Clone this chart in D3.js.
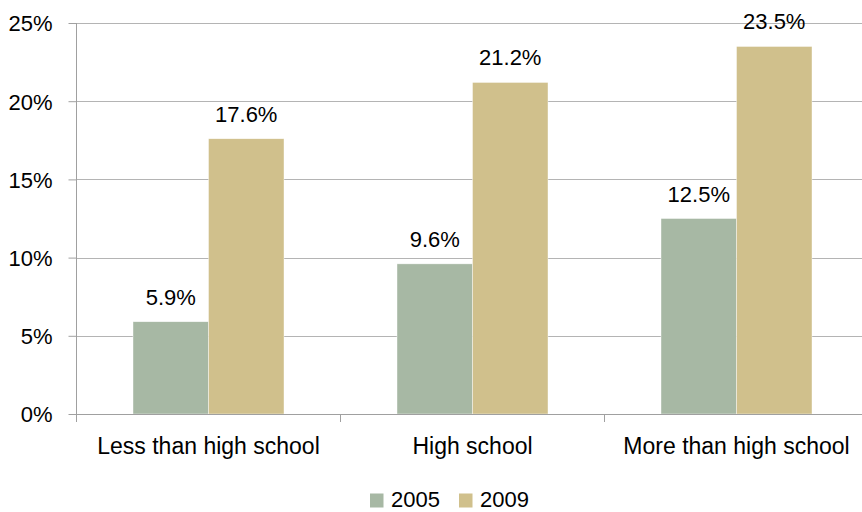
<!DOCTYPE html>
<html>
<head>
<meta charset="utf-8">
<script src="https://cdn.jsdelivr.net/npm/d3@7"></script>
<style>
  html, body { margin: 0; padding: 0; background: #fff; }
  svg { display: block; }
  text { font-family: "Liberation Sans", Arial, sans-serif; fill: #000; }
</style>
</head>
<body>
<svg id="chart" width="862" height="512"></svg>
<script>
const categories = ["Less than high school", "High school", "More than high school"];
const seriesNames = ["2005", "2009"];
const values2005 = [5.9, 9.6, 12.5];
const values2009 = [17.6, 21.2, 23.5];
const yTicks = [0, 5, 10, 15, 20, 25];
const colors = ["#a7b8a4", "#d0c08c"];

const svg = d3.select("#chart");
const fontSize = 22;
const catFontSize = 23;
const plotLeft = 76.5, plotRight = 868.5, plotTop = 23, plotBottom = 414;

const x0 = d3.scaleBand().domain(categories).range([plotLeft, plotRight]).padding(0);
const x1 = d3.scaleBand().domain(seriesNames).range([-75.5, 75.5]).padding(0);
const y = d3.scaleLinear().domain([0, 25]).range([plotBottom, plotTop]);

// gridlines
svg.append("g").selectAll("line").data(yTicks.filter(d => d > 0)).join("line")
  .attr("x1", plotLeft).attr("x2", plotRight)
  .attr("y1", d => Math.round(y(d)) + 0.5).attr("y2", d => Math.round(y(d)) + 0.5)
  .attr("stroke", "#b4b4b4").attr("stroke-width", 1);

// y axis
const yAxis = d3.axisLeft(y).tickValues(yTicks).tickFormat(d => d + "%").tickSize(8).tickPadding(16);
const gy = svg.append("g").attr("transform", `translate(${plotLeft},0)`).call(yAxis);
gy.select(".domain").remove();
gy.selectAll(".tick line").attr("stroke", "#a0a0a0");
gy.selectAll(".tick text").attr("font-size", fontSize).attr("font-family", "Liberation Sans, Arial, sans-serif").attr("fill", "#000").attr("dy", "0.36em");
svg.append("line").attr("x1", plotLeft).attr("x2", plotLeft).attr("y1", plotTop).attr("y2", plotBottom + 8)
  .attr("stroke", "#a0a0a0");

// bars
const data = categories.map((c, i) => ({ cat: c, vals: [values2005[i], values2009[i]] }));
const groups = svg.append("g").selectAll("g").data(data).join("g")
  .attr("transform", d => `translate(${x0(d.cat) + x0.bandwidth() / 2},0)`);
groups.selectAll("rect").data(d => d.vals.map((v, j) => ({ s: seriesNames[j], v, j }))).join("rect")
  .attr("x", d => x1(d.s))
  .attr("width", x1.bandwidth())
  .attr("y", d => y(d.v))
  .attr("height", d => y(0) - y(d.v))
  .attr("fill", d => colors[d.j])
  .attr("stroke", "#ffffff").attr("stroke-width", 0.6).attr("stroke-opacity", 0.7);
groups.selectAll("text.val").data(d => d.vals.map((v, j) => ({ s: seriesNames[j], v, j }))).join("text")
  .attr("class", "val")
  .attr("x", d => x1(d.s) + x1.bandwidth() / 2)
  .attr("y", d => y(d.v) - 17)
  .attr("text-anchor", "middle")
  .attr("font-size", fontSize)
  .text(d => d.v.toFixed(1) + "%");

// x axis
svg.append("line").attr("x1", plotLeft).attr("x2", plotRight).attr("y1", plotBottom + 0.5).attr("y2", plotBottom + 0.5)
  .attr("stroke", "#a0a0a0");
const boundaries = categories.map(c => x0(c)).concat([plotRight]);
svg.append("g").selectAll("line").data(boundaries).join("line")
  .attr("x1", d => d).attr("x2", d => d).attr("y1", plotBottom).attr("y2", plotBottom + 8)
  .attr("stroke", "#a0a0a0");
svg.append("g").selectAll("text").data(categories).join("text")
  .attr("x", d => x0(d) + x0.bandwidth() / 2)
  .attr("y", 454)
  .attr("text-anchor", "middle")
  .attr("font-size", catFontSize)
  .text(d => d);

// legend
const legendX = [370, 459];
const lg = svg.append("g").selectAll("g").data(seriesNames).join("g")
  .attr("transform", (d, i) => `translate(${legendX[i]},0)`);
lg.append("rect").attr("x", 0).attr("y", 493.5).attr("width", 13.5).attr("height", 14)
  .attr("fill", (d, i) => colors[i]);
lg.append("text").attr("x", 21).attr("y", 506.5).attr("font-size", fontSize).text(d => d);
</script>
</body>
</html>
